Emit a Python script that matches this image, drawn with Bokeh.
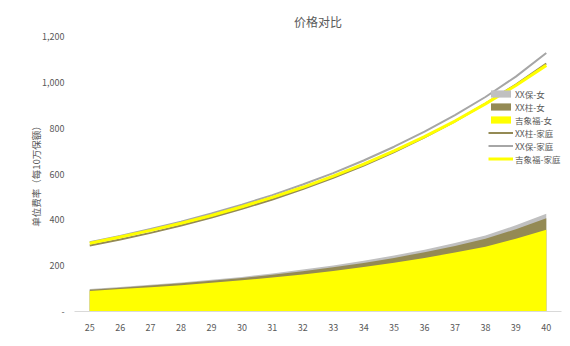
from bokeh.plotting import figure
from bokeh.models import Legend, LegendItem, Range1d, FixedTicker
from bokeh.embed import file_html
from bokeh.resources import INLINE

ages = list(range(25, 41))
tick_labels = [str(a) for a in ages]

# area series (女)
xxbao_nv = [98, 107, 117, 127, 139, 151, 166, 183, 201, 221, 244, 270, 299, 332, 376, 427]
xxzhu_nv = [95, 104, 113, 123, 134, 146, 160, 176, 193, 212, 234, 259, 286, 317, 359, 407]
jxf_nv = [90, 98, 106, 115, 125, 136, 148, 162, 177, 194, 213, 234, 257, 283, 318, 357]

# line series (家庭)
xxzhu_jt = [288, 314, 343, 375, 410, 448, 489, 534, 583, 637, 696, 760, 830, 907, 990, 1082]
xxbao_jt = [302, 330, 360, 392, 428, 466, 508, 554, 604, 659, 719, 785, 857, 936, 1025, 1128]
jxf_jt = [298, 325, 354, 385, 419, 457, 498, 542, 591, 643, 701, 763, 831, 906, 986, 1074]

y_ticks = [0, 200, 400, 600, 800, 1000, 1200]
y_tick_labels = ["-", "200", "400", "600", "800", "1,000", "1,200"]

TXT = "#595959"
FONT = "Noto Sans CJK SC"

p = figure(width=570, height=346, output_backend="svg", toolbar_location=None,
           x_range=Range1d(24.5, 40.5), y_range=Range1d(0, 1200),
           min_border_left=74, min_border_right=9, min_border_top=36, min_border_bottom=35,
           title="价格对比")
p.outline_line_color = None
p.xgrid.visible = False
p.ygrid.visible = False
p.title.align = "center"
p.title.vertical_align = "top"
p.title.text_font = FONT
p.title.text_font_size = "12px"
p.title.text_font_style = "normal"
p.title.text_color = TXT

r_a1 = p.varea(x=ages, y1=0, y2=xxbao_nv, fill_color="#C0C0C0")
r_a2 = p.varea(x=ages, y1=0, y2=xxzhu_nv, fill_color="#948A54")
r_a3 = p.varea(x=ages, y1=0, y2=jxf_nv, fill_color="#FFFF00")

r_l2 = p.line(ages, xxbao_jt, line_color="#A6A6A6", line_width=2)
r_l1 = p.line(ages, xxzhu_jt, line_color="#948A54", line_width=2)
r_l3 = p.line(ages, jxf_jt, line_color="#FFFF00", line_width=3)

p.xaxis.ticker = FixedTicker(ticks=ages)
p.xaxis.major_label_overrides = {a: l for a, l in zip(ages, tick_labels)}
p.xaxis.axis_line_color = "#D9D9D9"
p.xaxis.major_tick_line_color = None
p.xaxis.minor_tick_line_color = None
p.xaxis.major_label_text_font = FONT
p.xaxis.major_label_text_font_size = "9px"
p.xaxis.major_label_text_color = TXT
p.xaxis.major_label_standoff = 6

p.yaxis.ticker = FixedTicker(ticks=y_ticks)
p.yaxis.major_label_overrides = {t: l for t, l in zip(y_ticks, y_tick_labels)}
p.yaxis.axis_line_color = None
p.yaxis.major_tick_line_color = None
p.yaxis.minor_tick_line_color = None
p.yaxis.major_label_text_font = FONT
p.yaxis.major_label_text_font_size = "9px"
p.yaxis.major_label_text_color = TXT
p.yaxis.major_label_standoff = 4
p.yaxis.axis_label = "单位费率（每10万保额）"
p.yaxis.axis_label_text_font = FONT
p.yaxis.axis_label_text_font_size = "9.5px"
p.yaxis.axis_label_text_font_style = "normal"
p.yaxis.axis_label_text_color = TXT
p.yaxis.axis_label_standoff = -4

legend = Legend(items=[
    LegendItem(label="XX保-女", renderers=[r_a1]),
    LegendItem(label="XX柱-女", renderers=[r_a2]),
    LegendItem(label="吉象福-女", renderers=[r_a3]),
    LegendItem(label="XX柱-家庭", renderers=[r_l1]),
    LegendItem(label="XX保-家庭", renderers=[r_l2]),
    LegendItem(label="吉象福-家庭", renderers=[r_l3]),
], location=(414, 146))
legend.background_fill_alpha = 0
legend.border_line_color = None
legend.padding = 0
legend.margin = 0
legend.spacing = 0
legend.glyph_width = 25
legend.glyph_height = 9
legend.label_height = 13
legend.label_standoff = 2
legend.label_text_font = FONT
legend.label_text_font_size = "8.5px"
legend.label_text_color = TXT
p.add_layout(legend, "center")

open("out.html", "w").write(file_html(p, INLINE))
